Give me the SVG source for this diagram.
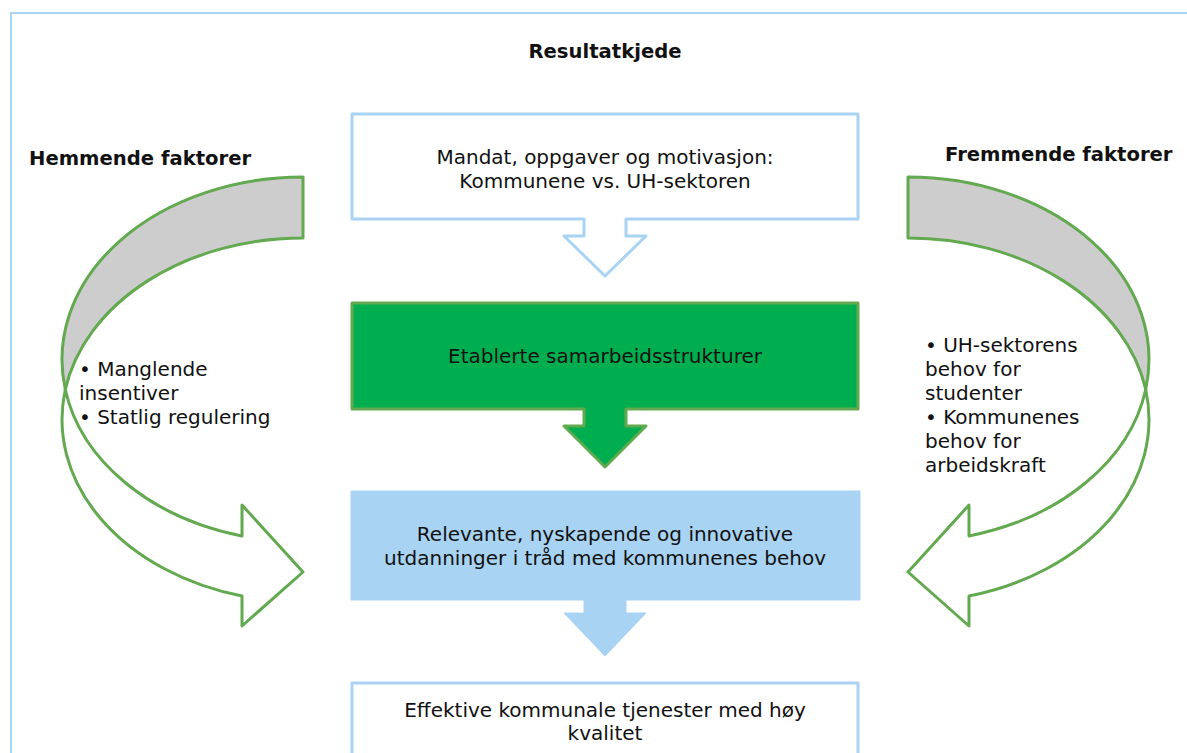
<svg xmlns="http://www.w3.org/2000/svg" width="1187" height="753" viewBox="0 0 1187 753">
<style>
text{font-family:"DejaVu Sans","Verdana",sans-serif;fill:#111}
.t{font-size:20px}
.c{text-anchor:middle}
.b{font-weight:bold;font-size:19.6px}
.bl{fill:#fff;stroke:#a8d3f3;stroke-width:3;stroke-linejoin:round}
.gr{fill:#00ae50;stroke:#62a94f;stroke-width:3;stroke-linejoin:round}
.lb{fill:#a8d3f3;stroke:#a8d3f3;stroke-width:1;stroke-linejoin:round}
.ca{stroke:#62a94f;stroke-width:3;stroke-linejoin:round}
</style>
<rect width="1187" height="753" fill="#fff"/>
<rect x="11" y="13" width="1200" height="760" fill="none" stroke="#a8d3f3" stroke-width="2"/>
<text class="b c" x="605" y="58">Resultatkjede</text>
<text class="b" x="29" y="165">Hemmende faktorer</text>
<text class="b" x="945" y="161">Fremmende faktorer</text>

<g id="left-arrow">
<path class="ca" fill="#cdcdcd" d="M303,177 A241,182.5 0 0 0 65.3,389.5 A241,182.5 0 0 1 303,238 Z"/>
<path class="ca" fill="#fff" d="M65.3,389.5 A241,182.5 0 0 0 242,596 V626 L303,572 L242,505 V536 A241,182.5 0 0 1 65.3,389.5 Z"/>
<text class="t" x="79" y="376">• Manglende</text>
<text class="t" x="79" y="400">insentiver</text>
<text class="t" x="79" y="424">• Statlig regulering</text>
</g>

<g id="right-arrow">
<path class="ca" fill="#cdcdcd" d="M908,177 A241,182.5 0 0 1 1145.7,389.5 A241,182.5 0 0 0 908,238 Z"/>
<path class="ca" fill="#fff" d="M1145.7,389.5 A241,182.5 0 0 1 969,596 V626 L908,572 L969,505 V536 A241,182.5 0 0 0 1145.7,389.5 Z"/>
<text class="t" x="925" y="352">• UH-sektorens</text>
<text class="t" x="925" y="376">behov for</text>
<text class="t" x="925" y="400">studenter</text>
<text class="t" x="925" y="424">• Kommunenes</text>
<text class="t" x="925" y="448">behov for</text>
<text class="t" x="925" y="472">arbeidskraft</text>
</g>

<g id="box1">
<path class="bl" d="M352,114 H858 V219 H626 V236 H646 L605,276 L564,236 H584 V219 H352 Z"/>
<text class="t c" x="605" y="164">Mandat, oppgaver og motivasjon:</text>
<text class="t c" x="605" y="188">Kommunene vs. UH-sektoren</text>
</g>

<g id="box2">
<path class="gr" d="M352,303 H858 V409 H626 V426 H646 L605,467 L564,426 H584 V409 H352 Z"/>
<text class="t c" x="605" y="363">Etablerte samarbeidsstrukturer</text>
</g>

<g id="box3">
<path class="lb" d="M351,491 H860 V600 H626 V613 H646 L605,656 L564,613 H584 V600 H351 Z"/>
<text class="t c" x="605" y="541">Relevante, nyskapende og innovative</text>
<text class="t c" x="605" y="565">utdanninger i tråd med kommunenes behov</text>
</g>

<g id="box4">
<rect class="bl" x="352" y="683" width="506" height="90"/>
<text class="t c" x="605" y="717">Effektive kommunale tjenester med høy</text>
<text class="t c" x="605" y="740">kvalitet</text>
</g>
<g id="connectors"></g>
</svg>
